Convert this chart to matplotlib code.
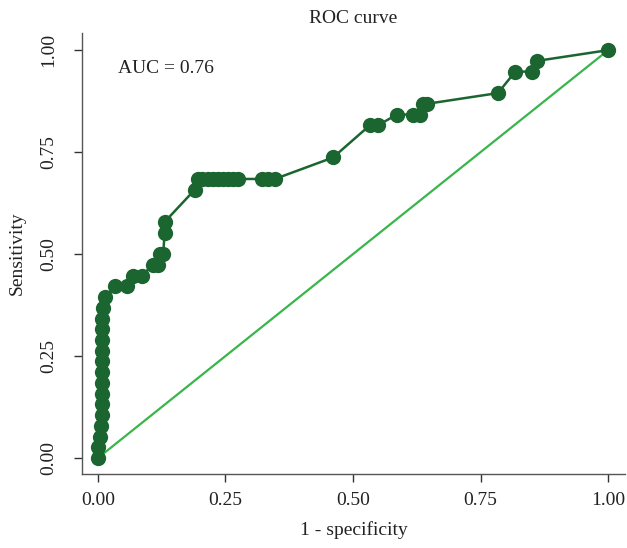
import matplotlib
matplotlib.use('Agg')
import matplotlib.pyplot as plt

# ROC points (1 - specificity, sensitivity), 38 positives
fpr = [0.0, 0.001, 0.004, 0.007, 0.008, 0.008, 0.008, 0.008, 0.008, 0.008,
       0.008, 0.008, 0.008, 0.009, 0.010, 0.014,
       0.033, 0.057, 0.069, 0.086, 0.108, 0.118, 0.122, 0.128,
       0.131, 0.131, 0.190,
       0.196, 0.205, 0.215, 0.225, 0.235, 0.245, 0.255, 0.265, 0.275,
       0.321, 0.333, 0.347, 0.461, 0.533, 0.549,
       0.586, 0.618, 0.631, 0.637, 0.645, 0.784, 0.818, 0.851, 0.861, 1.0]
tpr_counts = [0, 1, 2, 3, 4, 5, 6, 7, 8, 9,
              10, 11, 12, 13, 14, 15,
              16, 16, 17, 17, 18, 18, 19, 19,
              21, 22, 25,
              26, 26, 26, 26, 26, 26, 26, 26, 26,
              26, 26, 26, 28, 31, 31,
              32, 32, 32, 33, 33, 34, 36, 36, 37, 38]
n_pos = 38
tpr = [c / n_pos for c in tpr_counts]

ticks = [0.0, 0.25, 0.5, 0.75, 1.0]
tick_labels = ['0.00', '0.25', '0.50', '0.75', '1.00']
auc_text = 'AUC = 0.76'

plt.rcParams['font.family'] = ['Liberation Serif', 'DejaVu Serif']

fig = plt.figure(figsize=(6.27, 5.48), dpi=100)
ax = fig.add_axes([82 / 627, 1 - 474 / 548, 543 / 627, 441 / 548])

ax.plot([0, 1], [0, 1], color='#3ab54a', linewidth=1.6, zorder=1)
ax.plot(fpr, tpr, color='#1b6530', linewidth=1.8, marker='o',
        markersize=11, markeredgewidth=0, zorder=2)

ax.set_xlim(-0.031, 1.033)
ax.set_ylim(-0.039, 1.042)
ax.set_xticks(ticks)
ax.set_xticklabels(tick_labels)
ax.set_yticks(ticks)
ax.set_yticklabels(tick_labels, rotation=90, va='center')

for side in ['top', 'right']:
    ax.spines[side].set_visible(False)
for side in ['left', 'bottom']:
    ax.spines[side].set_color('#555555')
    ax.spines[side].set_linewidth(1.0)
ax.tick_params(direction='out', length=6, width=1.0, color='#333333',
               labelsize=14, labelcolor='#222222')
ax.tick_params(axis='x', pad=7)
ax.tick_params(axis='y', pad=12)

ax.text(0.04, 0.956, auc_text, fontsize=14, color='#222222', va='center')
ax.set_title('ROC curve', fontsize=14, color='#222222', pad=7)
ax.set_xlabel('1 - specificity', fontsize=14, color='#222222', labelpad=9)
ax.set_ylabel('Sensitivity', fontsize=14, color='#222222', labelpad=10)

fig.savefig('out.png', dpi=100)
